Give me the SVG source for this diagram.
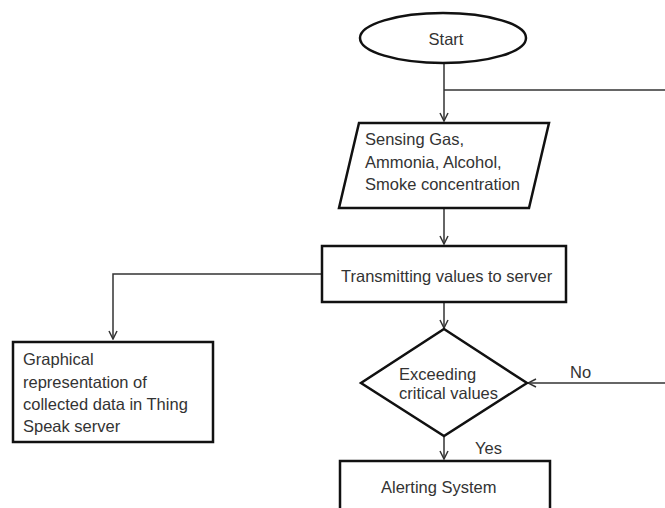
<svg xmlns="http://www.w3.org/2000/svg" width="665" height="508" viewBox="0 0 665 508">
<style>
.shape{fill:#fff;stroke:#111;stroke-width:2.5}
.conn{fill:none;stroke:#333;stroke-width:1.5}
text{font-family:"Liberation Sans",Arial,sans-serif;font-size:16.5px;fill:#333}
</style>
<defs>
<marker id="arr" viewBox="0 0 10 10" refX="9" refY="5" markerWidth="10" markerHeight="10" markerUnits="userSpaceOnUse" orient="auto">
<path d="M1,1 L9,5 L1,9" fill="none" stroke="#333" stroke-width="1.5"/>
</marker>
</defs>
<rect width="665" height="508" fill="#fff"/>
<g id="connectors">
<path class="conn" d="M444,63 V121" marker-end="url(#arr)"/>
<path class="conn" d="M444,90 H665"/>
<path class="conn" d="M444,208 V244" marker-end="url(#arr)"/>
<path class="conn" d="M322,274 H113 V339" marker-end="url(#arr)"/>
<path class="conn" d="M444,302 V328" marker-end="url(#arr)"/>
<path class="conn" d="M665,383 H528" marker-end="url(#arr)"/>
<path class="conn" d="M444,436 V459" marker-end="url(#arr)"/>
<text x="570" y="378">No</text>
<text x="475" y="454">Yes</text>
</g>
<g id="start">
<ellipse class="shape" cx="443" cy="38" rx="83" ry="25"/>
<text x="446" y="45" text-anchor="middle">Start</text>
</g>
<g id="sensing">
<polygon class="shape" points="359,123 549,123 529,208 339,208"/>
<text x="365" y="145">Sensing Gas,</text>
<text x="365" y="168">Ammonia, Alcohol,</text>
<text x="365" y="190">Smoke concentration</text>
</g>
<g id="transmit">
<rect class="shape" x="322" y="246" width="244" height="56"/>
<text x="341" y="282">Transmitting values to server</text>
</g>
<g id="graphical">
<rect class="shape" x="13" y="342" width="200" height="100"/>
<text x="23" y="365">Graphical</text>
<text x="23" y="388">representation of</text>
<text x="23" y="410">collected data in Thing</text>
<text x="23" y="432">Speak server</text>
</g>
<g id="decision">
<polygon class="shape" points="444,329 527,383 444,436 361,383"/>
<text x="399" y="380">Exceeding</text>
<text x="399" y="399">critical values</text>
</g>
<g id="alert">
<rect class="shape" x="340" y="461" width="210" height="60"/>
<text x="381" y="493">Alerting System</text>
</g>
</svg>
